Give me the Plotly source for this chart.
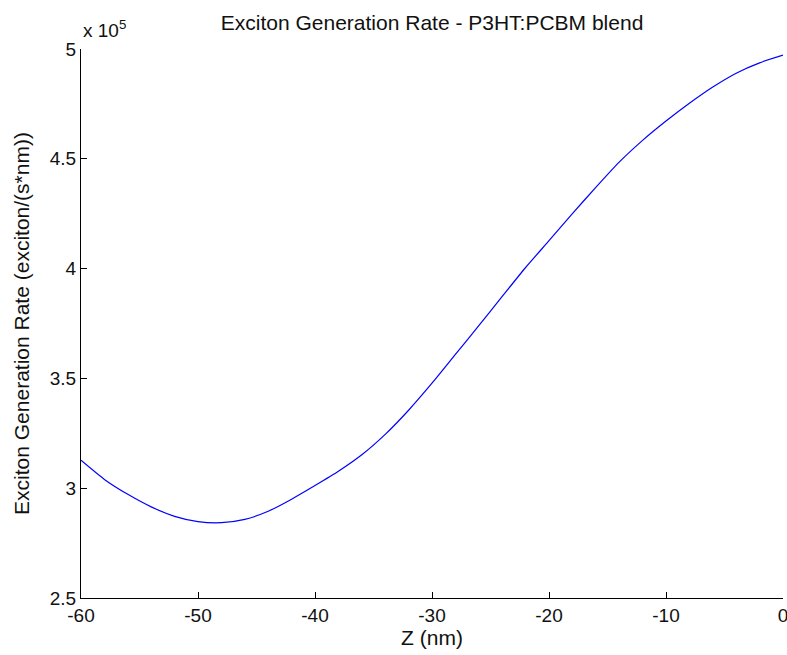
import plotly.graph_objects as go

# Depth into the active layer (nm)
z_nm = [-60, -58, -56, -54, -52, -50, -48, -46, -44, -42, -40, -38, -36,
        -34, -32, -30, -28, -26, -24, -22, -20, -18, -16, -14, -12, -10,
        -8, -6, -4, -2, 0]
# Exciton generation rate (units of 1e5 exciton/(s*nm))
rate_e5 = [3.127, 3.040, 2.972, 2.915, 2.872, 2.848, 2.843, 2.858, 2.895,
           2.950, 3.012, 3.077, 3.152, 3.245, 3.355, 3.478, 3.609, 3.740,
           3.873, 4.005, 4.127, 4.250, 4.370, 4.485, 4.584, 4.672, 4.753,
           4.827, 4.890, 4.937, 4.972]

x_ticks = [-60, -50, -40, -30, -20, -10, 0]
y_ticks = [2.5, 3, 3.5, 4, 4.5, 5]

FONT = "Liberation Sans, Arial, sans-serif"
FS_TICK = 19
FS_TITLE = 21
TXT = "#111111"

fig = go.Figure()
fig.add_trace(go.Scatter(
    x=z_nm, y=rate_e5, mode="lines",
    line=dict(color="#0000FF", width=1.2, shape="spline", smoothing=0.6),
    showlegend=False, hoverinfo="x+y"))

fig.update_layout(
    width=787, height=655,
    paper_bgcolor="white", plot_bgcolor="white",
    margin=dict(l=81, r=4, t=49, b=57, autoexpand=False),
    font=dict(family=FONT, size=FS_TICK, color=TXT),
    title=dict(text="Exciton Generation Rate - P3HT:PCBM blend", x=0.549, xanchor="center",
               y=0.966, yanchor="middle", font=dict(size=FS_TITLE, family=FONT, color=TXT)),
)
fig.update_xaxes(
    range=[-60, 0], tickvals=x_ticks, ticktext=[str(v) for v in x_ticks],
    showline=True, linecolor="black", linewidth=1, mirror=False,
    ticks="inside", ticklen=6, tickcolor="black", tickwidth=1,
    showgrid=False, zeroline=False, automargin=False, ticklabeloverflow="allow",
    title=dict(text="Z (nm)", standoff=2, font=dict(size=FS_TITLE, family=FONT, color=TXT)),
)
fig.update_yaxes(
    range=[2.5, 5], tickvals=y_ticks, ticktext=[str(v) for v in y_ticks],
    showline=True, linecolor="black", linewidth=1, mirror=False,
    ticks="inside", ticklen=6, tickcolor="black", tickwidth=1,
    showgrid=False, zeroline=False, automargin=False, ticklabeloverflow="allow",
    title=dict(text="Exciton Generation Rate (exciton/(s*nm))", standoff=14,
               font=dict(size=FS_TITLE, family=FONT, color=TXT)),
)
fig.add_annotation(text="x 10<sup>5</sup>", xref="paper", yref="paper", x=0, y=1,
                   xanchor="left", yanchor="bottom", showarrow=False, yshift=6,
                   font=dict(size=19, family=FONT, color=TXT))

fig.write_html("out.html", config={"displayModeBar": False},
               post_script="document.body.style.margin='0';")
